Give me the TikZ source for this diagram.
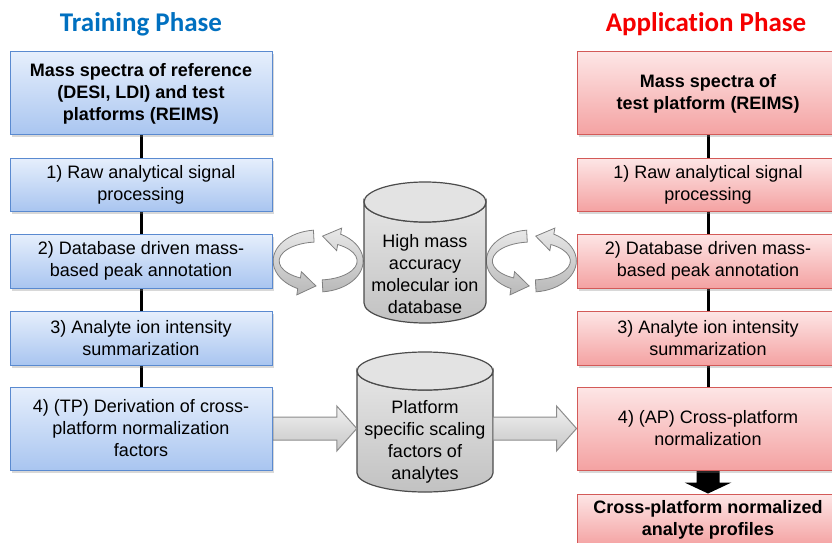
\documentclass[tikz,border=0pt]{standalone}
\usepackage{fontspec}
\setmainfont{Liberation Sans}
\newfontfamily\titlefont[Ligatures=NoCommon]{Carlito}
\usepackage{tikz}
\usetikzlibrary{arrows.meta,positioning,calc,shadows,backgrounds}
\definecolor{tpBlue}{HTML}{0070C0}
\definecolor{apRed}{HTML}{F50000}
\definecolor{boxBlueTop}{HTML}{E6EFFC}
\definecolor{boxBlueBot}{HTML}{A9C5F0}
\definecolor{boxBlueLine}{HTML}{5A8AD0}
\definecolor{boxRedTop}{HTML}{FDE6E6}
\definecolor{boxRedBot}{HTML}{F4A2A2}
\definecolor{boxRedLine}{HTML}{D35A58}

% cilindro: centro x, radio x, radio y, y arriba, y abajo
\newcommand{\dbcyl}[5]{%
  \path[cylbody] (#1-#2,#4) -- (#1-#2,#5)
    arc[start angle=180, end angle=360, x radius=#2, y radius=#3]
    -- (#1+#2,#4) arc[start angle=0, end angle=-180, x radius=#2, y radius=#3] -- cycle;
  \path[cyltop] (#1,#4) ellipse[x radius=#2, y radius=#3];}

% flecha curva (cinta): centro, angulo inicial, angulo final del cuerpo
\newcommand{\ringarrow}[3]{%
  \path[ringfill] ($(#1)+(#2:45 and 31)$)
    arc[start angle=#2, end angle=#3, x radius=45, y radius=31]
    -- ($(#1)+(#3:47 and 38)$) -- ($(#1)+({#3+24}:42 and 25)$)
    -- ($(#1)+(#3:37 and 12)$) -- ($(#1)+(#3:39 and 19)$)
    arc[start angle=#3, end angle=#2, x radius=39, y radius=19] -- cycle;}

% flecha gruesa horizontal
\newcommand{\flatarrow}[2]{%
  \path[bigarrow] ($(#1)+(0,11.5)$) -- ($(#2)+(-20,11.5)$) -- ($(#2)+(-20,22.5)$)
    -- (#2) -- ($(#2)+(-20,-22.5)$) -- ($(#2)+(-20,-11.5)$) -- ($(#1)+(0,-11.5)$) -- cycle;}

\begin{document}
\begin{tikzpicture}[
    x=1pt, y=1pt,
    node distance=22pt,
    font=\fontsize{18}{22}\selectfont,
    stepbox/.style={draw, rectangle, minimum width=262pt, minimum height=53pt, inner sep=4pt, align=center, line width=1pt,
        drop shadow={shadow xshift=2pt, shadow yshift=-2.5pt, opacity=0.3}},
    tpbox/.style={stepbox, draw=boxBlueLine, top color=boxBlueTop, bottom color=boxBlueBot},
    apbox/.style={stepbox, draw=boxRedLine, top color=boxRedTop, bottom color=boxRedBot},
    headbox/.style={minimum height=83pt, font=\fontsize{18}{22}\selectfont\bfseries},
    phase/.style={font=\titlefont\fontsize{27}{32}\selectfont\bfseries, anchor=base},
    dbtext/.style={align=center, inner sep=0pt},
    link/.style={line width=3pt},
    cylbody/.style={draw=black!70, line width=1.2pt, top color=gray!20, bottom color=gray!48},
    cyltop/.style={draw=black!70, line width=1.2pt, fill=gray!22},
    ringfill/.style={draw=black!50, line width=0.8pt, top color=gray!18, bottom color=gray!55},
    bigarrow/.style={draw=black!45, line width=1pt, top color=gray!10, bottom color=gray!45}
]
    \useasboundingbox (0,0) rectangle (832,542);

    % Fase de entrenamiento
    \node[phase, text=tpBlue] (tptitle) at (141,510) {Training Phase};
    \node[tpbox, headbox] (tp0) at (141,448.5) {Mass spectra of reference\\(DESI, LDI) and test\\platforms (REIMS)};
    \node[tpbox, below=of tp0] (tp1) {1) Raw analytical signal\\processing};
    \node[tpbox, below=of tp1, minimum height=54pt] (tp2) {2) Database driven mass-\\based peak annotation};
    \node[tpbox, below=of tp2, minimum height=54pt] (tp3) {3) Analyte ion intensity\\summarization};
    \node[tpbox, below=21pt of tp3, minimum height=83pt] (tp4) {4) (TP) Derivation of cross-\\platform normalization\\factors};

    % Fase de aplicacion
    \node[phase, text=apRed] (aptitle) at (706,510) {Application Phase};
    \node[apbox, headbox] (ap0) at (708,448.5) {Mass spectra of\\test platform (REIMS)};
    \node[apbox, below=of ap0] (ap1) {1) Raw analytical signal\\processing};
    \node[apbox, below=of ap1, minimum height=54pt] (ap2) {2) Database driven mass-\\based peak annotation};
    \node[apbox, below=of ap2, minimum height=54pt] (ap3) {3) Analyte ion intensity\\summarization};
    \node[apbox, below=21pt of ap3, minimum height=83pt] (ap4) {4) (AP) Cross-platform\\normalization};
    \node[apbox, headbox, below=23pt of ap4, minimum height=52pt] (out) {Cross-platform normalized\\analyte profiles};

    % Bases de datos
    \node[dbtext, minimum width=122pt] (hmdb) at (425,268) {High mass\\accuracy\\molecular ion\\database};
    \node[dbtext, minimum width=136pt] (scal) at (425,100) {Platform\\specific scaling\\factors of\\analytes};

    \coordinate (ringL) at ($(tp2.east)!0.5!(hmdb.west |- tp2.east)$);
    \coordinate (ringR) at ($(hmdb.east |- ap2.west)!0.5!(ap2.west)$);
    \coordinate (tipL) at (scal.west |- tp4.east);
    \coordinate (tailR) at (scal.east |- ap4.west);

    \begin{scope}[on background layer]
        \fill[white] (0,0) rectangle (832,542);
        \draw[link] (tp0) -- (tp1) (tp1) -- (tp2) (tp2) -- (tp3) (tp3) -- (tp4);
        \draw[link] (ap0) -- (ap1) (ap1) -- (ap2) (ap2) -- (ap3) (ap3) -- (ap4);

        % ciclos de consulta a la base de datos
        \ringarrow{ringL}{96}{243}
        \ringarrow{ringL}{276}{420}
        \ringarrow{ringR}{96}{243}
        \ringarrow{ringR}{276}{420}

        \dbcyl{425}{61}{20}{340}{239}
        \dbcyl{425}{68}{19}{171}{69}

        \flatarrow{tp4.east}{tipL}
        \flatarrow{tailR}{ap4.west}

        % flecha negra hacia el resultado
        \fill ($(ap4.south)+(-11.5,0)$) -- ($(ap4.south)+(11.5,0)$) -- ($(out.north)+(11.5,11)$)
            -- ($(out.north)+(23.5,11)$) -- (out.north) -- ($(out.north)+(-23.5,11)$)
            -- ($(out.north)+(-11.5,11)$) -- cycle;
    \end{scope}
\end{tikzpicture}
\end{document}
